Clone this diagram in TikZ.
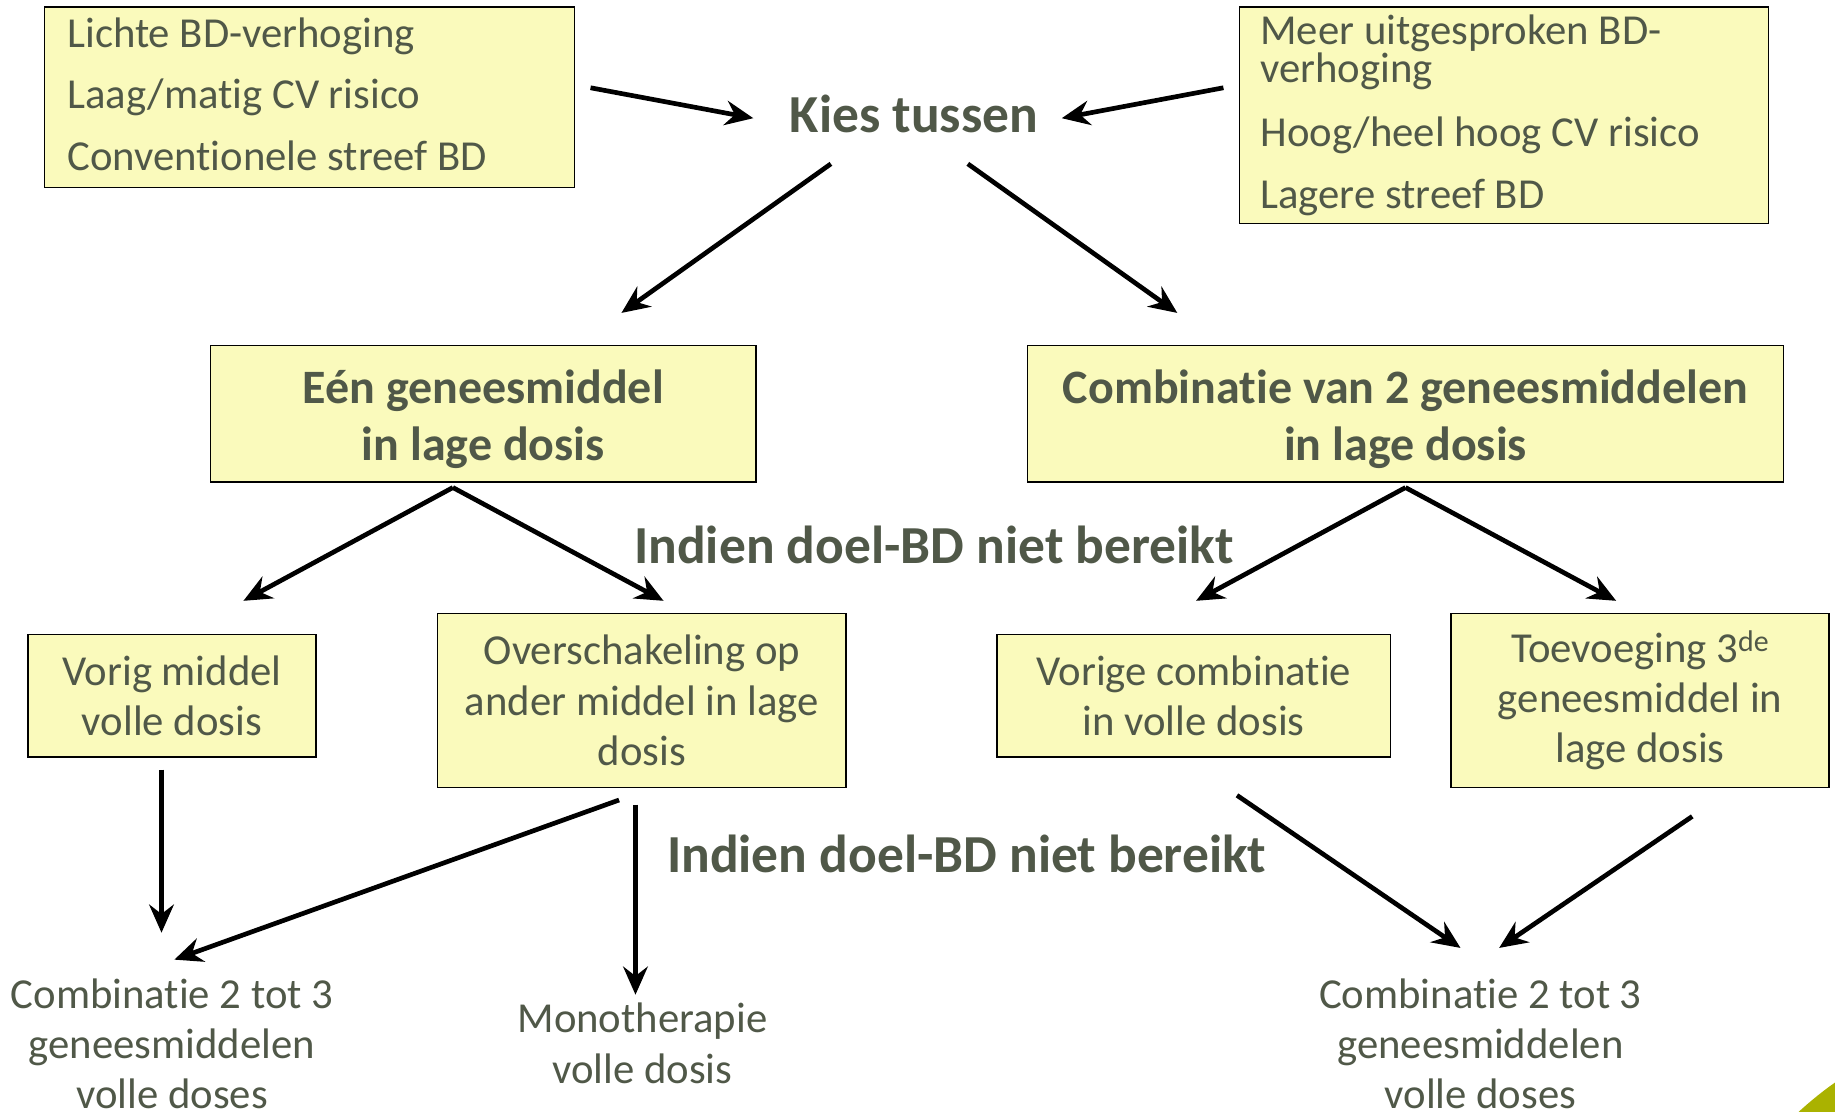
\documentclass[tikz,border=0pt]{standalone}
\usepackage{fontspec}
\setmainfont{Carlito}[Ligatures=NoCommon]
\usetikzlibrary{arrows.meta,calc}
\definecolor{txt}{RGB}{80,88,72}
\definecolor{boxfill}{RGB}{250,250,188}
\definecolor{leaf}{RGB}{170,178,0}
\lineskiplimit=-50pt
\newcommand\lowerby[3]{\raisebox{#1}[\height][\depth]{\parbox{#2}{#3}}}
\begin{document}
\begin{tikzpicture}[x=1pt,y=-1pt,
  box/.style={draw=black,line width=1.2pt,fill=boxfill,inner sep=0pt,text=txt,align=center},
  reg/.style={font=\fontsize{36.5}{43}\selectfont},
  bld/.style={font=\fontsize{41}{49}\selectfont\bfseries},
  big/.style={font=\fontsize{45.7}{53}\selectfont\bfseries},
  plain/.style={inner sep=0pt,text=txt,align=center},
  arr/.style={line width=4pt,-{Stealth[length=24pt,width=21pt,inset=8pt]}}]
\useasboundingbox (0,0) rectangle (1568,950);
% top boxes
\node[box,minimum width=453pt,minimum height=154pt,
  font=\fontsize{36.5}{52.5}\selectfont] (tl) at (264.5,83)
  {\lowerby{2.5pt}{414pt}{\raggedright Lichte BD-verhoging\\Laag/matig CV risico\\Conventionele streef BD}};
\node[box,minimum width=452pt,minimum height=185pt,text width=416pt,align=flush left,
  font=\fontsize{36.5}{31}\selectfont] (tr) at (1285,98.5)
  {Meer uitgesproken BD-\\verhoging\\[22pt]Hoog/heel hoog CV risico\\[21pt]Lagere streef BD};
\node[plain,big] (kies) at (781,97) {Kies tussen};
% second level
\node[box,bld,minimum width=466pt,minimum height=117pt] (een) at (413,353.5)
  {\lowerby{-5pt}{400pt}{\centering Eén geneesmiddel\\in lage dosis}};
\node[box,bld,minimum width=646pt,minimum height=117pt] (comb) at (1201,353.5)
  {\lowerby{-5pt}{620pt}{\centering Combinatie van 2 geneesmiddelen\\in lage dosis}};
\node[plain,big] (ind1) at (798,466) {Indien doel-BD niet bereikt};
% third level
\node[box,reg,minimum width=246pt,minimum height=105pt] (vorig) at (147,594.5)
  {Vorig middel\\volle dosis};
\node[box,reg,minimum width=349pt,minimum height=149pt] (over) at (548.5,598.5)
  {Overschakeling op\\ander middel in lage\\dosis};
\node[box,reg,minimum width=336pt,minimum height=105pt] (vcomb) at (1020,594.5)
  {Vorige combinatie\\in volle dosis};
\node[box,reg,minimum width=323pt,minimum height=149pt] (toev) at (1401.5,598.5)
  {Toevoeging 3\textsuperscript{de}\\geneesmiddel in\\lage dosis};
\node[plain,big] (ind2) at (826,730) {Indien doel-BD niet bereikt};
% bottom texts
\node[plain,reg] (combL) at (147,892) {Combinatie 2 tot 3\\geneesmiddelen\\volle doses};
\node[plain,reg] (mono) at (549,891.5) {Monotherapie\\volle dosis};
\node[plain,reg] (combR) at (1265,892) {Combinatie 2 tot 3\\geneesmiddelen\\volle doses};
% arrows
\draw[arr] ($(tl.east)+(13,-8)$) -- ($(kies.west)+(-31,4)$);
\draw[arr] ($(tr.west)+(-13,-23.5)$) -- ($(kies.east)+(20,4)$);
\draw[arr] ($(kies.center)+(-71,43)$) -- ($(een.north)+(118,-27)$);
\draw[arr] ($(kies.center)+(46,43)$) -- ($(comb.north)+(-195,-27)$);
\draw[arr] ($(een.south)+(-26,4)$) -- ($(vorig.north)+(61,-28)$);
\draw[arr] ($(een.south)+(-26,4)$) -- ($(over.north)+(18.5,-10)$);
\draw[arr] ($(comb.south)+(0,4)$) -- ($(vcomb.north)+(2,-28)$);
\draw[arr] ($(comb.south)+(0,4)$) -- ($(toev.north)+(-20.5,-10)$);
\draw[arr] ($(vorig.south)+(-9,10)$) -- ($(combL.center)+(-9,-95)$);
\draw[arr] ($(over.south)+(-19.5,10)$) -- ($(combL.center)+(2,-72)$);
\draw[arr] ($(over.south)+(-5.5,14)$) -- ($(mono.center)+(-6,-41.5)$);
\draw[arr] ($(vcomb.south)+(37,32)$) -- ($(combR.center)+(-17,-82)$);
\draw[arr] ($(toev.south)+(44.5,24)$) -- ($(combR.center)+(16,-82)$);
% corner leaf
\fill[leaf] (1537,950) .. controls (1548,940) and (1558,932) .. (1568,925) -- (1568,950) -- cycle;
\end{tikzpicture}
\end{document}
